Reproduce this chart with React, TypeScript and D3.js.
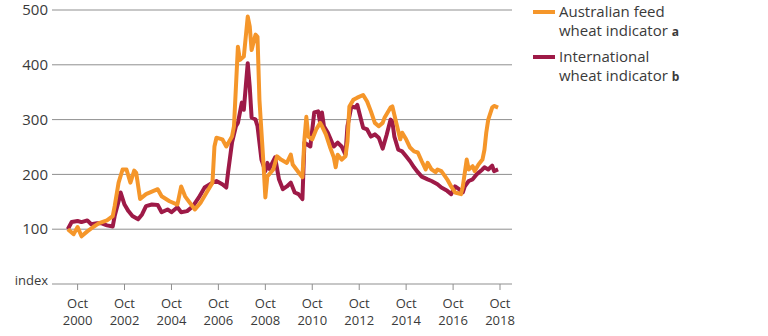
import React from "react";
import * as d3 from "d3";

// Australian feed wheat indicator (index)
const ausDates = [
  "2000-05","2000-08","2000-10","2000-12","2001-03","2001-06","2001-09","2002-01","2002-04","2002-05",
  "2002-07","2002-09","2002-11","2003-01","2003-03","2003-04","2003-06","2003-09","2004-03","2004-05",
  "2004-09","2005-01","2005-03","2005-05","2005-06","2005-10","2006-01","2006-04","2006-07","2006-08",
  "2006-09","2006-12","2007-02","2007-05","2007-06","2007-08","2007-09","2007-11","2008-01","2008-02",
  "2008-03","2008-05","2008-06","2008-07","2008-09","2008-10","2008-11","2009-02","2009-04","2009-06",
  "2009-09","2009-11","2009-12","2010-03","2010-05","2010-06","2010-07","2010-08","2010-10","2010-12",
  "2011-02","2011-03","2011-05","2011-07","2011-09","2011-10","2011-11","2012-01","2012-03","2012-04",
  "2012-05","2012-07","2012-09","2012-12","2013-02","2013-04","2013-06","2013-08","2013-10","2013-11",
  "2014-02","2014-03","2014-05","2014-07","2014-08","2014-10","2014-12","2015-02","2015-04","2015-06",
  "2015-08","2015-09","2015-11","2016-01","2016-02","2016-04","2016-06","2016-07","2016-09","2016-11",
  "2017-02","2017-03","2017-05","2017-06","2017-08","2017-09","2017-11","2018-01","2018-02","2018-03",
  "2018-04","2018-06","2018-07","2018-09"
];
const ausValues = [
  100,91,104,87,96,104,111,116,124,142,
  185,209,209,185,207,203,155,164,173,160,
  151,145,178,160,155,136,149,167,185,251,
  267,264,251,269,288,433,409,415,488,470,
  427,455,451,336,221,158,196,209,233,227,
  221,236,218,204,195,264,305,269,264,282,
  294,288,273,251,231,213,236,227,233,260,
  324,336,340,345,333,315,294,288,294,304,
  322,324,294,264,276,264,249,242,240,224,
  209,221,209,204,209,206,196,191,178,167,
  164,178,227,209,215,206,218,227,245,276,
  300,322,325,322
];

// International wheat indicator (index)
const intDates = [
  "2000-05","2000-07","2000-10","2000-12","2001-03","2001-05","2001-08","2001-10","2002-01","2002-04",
  "2002-05","2002-07","2002-08","2002-10","2002-12","2003-02","2003-05","2003-07","2003-09","2003-12",
  "2004-03","2004-05","2004-08","2004-10","2005-01","2005-03","2005-06","2005-09","2005-12","2006-03",
  "2006-07","2006-09","2006-12","2007-02","2007-03","2007-05","2007-07","2007-08","2007-10","2007-11",
  "2007-12","2008-01","2008-02","2008-03","2008-05","2008-06","2008-08","2008-10","2008-11","2008-12",
  "2009-03","2009-05","2009-07","2009-09","2009-11","2010-01","2010-03","2010-05","2010-06","2010-09",
  "2010-11","2011-01","2011-02","2011-03","2011-04","2011-06","2011-09","2011-11","2012-01","2012-03",
  "2012-04","2012-06","2012-08","2012-09","2012-10","2012-12","2013-02","2013-04","2013-06","2013-08",
  "2013-10","2013-12","2014-02","2014-03","2014-04","2014-06","2014-08","2014-10","2014-12","2015-02",
  "2015-04","2015-06","2015-09","2015-11","2016-02","2016-04","2016-07","2016-09","2016-11","2017-01",
  "2017-03","2017-04","2017-06","2017-08","2017-10","2018-01","2018-02","2018-04","2018-06","2018-07",
  "2018-09"
];
const intValues = [
  100,113,115,113,116,109,111,111,107,105,
  124,151,167,145,133,124,118,127,142,145,
  144,131,136,131,140,131,133,142,158,176,
  185,188,182,176,204,258,288,294,331,318,
  360,403,360,304,300,288,227,206,221,210,
  231,191,173,178,185,167,164,155,258,251,
  313,315,294,313,288,276,251,258,251,236,
  288,324,322,327,313,285,282,269,273,267,
  247,272,300,296,269,245,242,233,224,213,
  204,196,191,188,182,176,170,164,178,173,
  167,178,188,191,200,209,213,209,216,206,
  209
];

const yTicks = [100, 200, 300, 400, 500];
const xTickYears = [2000, 2002, 2004, 2006, 2008, 2010, 2012, 2014, 2016, 2018];
const legendItems = [
  { lines: ["Australian feed", "wheat indicator"], note: "a", color: "#F5962A" },
  { lines: ["International", "wheat indicator"], note: "b", color: "#9E1A47" },
];

const W = 768;
const H = 336;
const FONT = "'Open Sans', 'DejaVu Sans', sans-serif";
const TEXT = "#3a3a3a";

const parse = d3.timeParse("%Y-%m");

export default function App() {
  const x = d3
    .scaleTime()
    .domain([new Date(2000, 9, 1), new Date(2018, 9, 1)])
    .range([77.6, 500]);
  const y = d3.scaleLinear().domain([0, 500]).range([284, 10]);
  const left = 52;
  const right = 512;

  const line = d3
    .line<[Date, number]>()
    .x((d) => x(d[0]))
    .y((d) => y(d[1]))
    .curve(d3.curveLinear);

  const aus: [Date, number][] = ausDates.map((d, i) => [parse(d) as Date, ausValues[i]]);
  const intl: [Date, number][] = intDates.map((d, i) => [parse(d) as Date, intValues[i]]);

  return (
    <svg
      width={W}
      height={H}
      style={{ position: "absolute", left: 0, top: 0, background: "#fff" }}
      fontFamily={FONT}
    >
      {yTicks.map((t) => (
        <g key={t}>
          <line x1={left} x2={right} y1={y(t)} y2={y(t)} stroke="#8f8f8f" strokeWidth={1} />
          <text x={left - 4} y={y(t)} dy="0.35em" textAnchor="end" fontSize={15} fill={TEXT}>
            {t}
          </text>
        </g>
      ))}
      <line x1={left} x2={right} y1={y(0)} y2={y(0)} stroke="#8f8f8f" strokeWidth={1} />
      <text x={left - 4} y={y(0)} dy="0.1em" textAnchor="end" fontSize={13} fill={TEXT}>
        index
      </text>
      {xTickYears.map((yr) => {
        const xx = x(new Date(yr, 9, 1));
        return (
          <g key={yr}>
            <line x1={xx} x2={xx} y1={y(0)} y2={y(0) + 6} stroke="#8f8f8f" strokeWidth={1} />
            <text x={xx} y={308} textAnchor="middle" fontSize={13} fill={TEXT}>
              Oct
            </text>
            <text x={xx} y={325} textAnchor="middle" fontSize={13} fill={TEXT}>
              {yr}
            </text>
          </g>
        );
      })}
      <path d={line(intl) || ""} fill="none" stroke="#9E1A47" strokeWidth={4} strokeLinejoin="round" />
      <path d={line(aus) || ""} fill="none" stroke="#F5962A" strokeWidth={4} strokeLinejoin="round" />
      {legendItems.map((item, i) => {
        const top = 12 + i * 45;
        return (
          <g key={item.note}>
            <line x1={533} x2={555} y1={top} y2={top} stroke={item.color} strokeWidth={4} />
            <text x={559} y={top + 5} fontSize={15} fill={TEXT}>
              {item.lines[0]}
            </text>
            <text x={559} y={top + 24} fontSize={15} fill={TEXT}>
              {item.lines[1]}
              <tspan fontWeight="bold" fontSize={12} dx={4}>
                {item.note}
              </tspan>
            </text>
          </g>
        );
      })}
    </svg>
  );
}
